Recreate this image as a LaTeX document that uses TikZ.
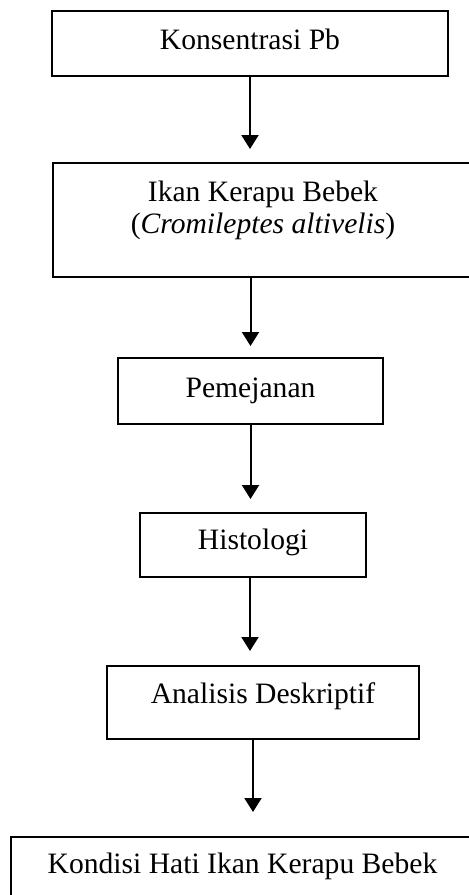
\documentclass[tikz,border=0pt]{standalone}
\usepackage{fontspec}
\setmainfont{Liberation Serif}
\usetikzlibrary{positioning, arrows.meta}

\begin{document}
\begin{tikzpicture}[x = 0.5pt, y = -0.5pt,
    box/.style = {draw, line width = 1pt, inner ysep = 0pt, align = center,
        font = \fontsize{14.8}{16}\selectfont},
    arr/.style = {line width = 1pt, -{Triangle[width = 8.5pt, length = 7pt]}}]
        \useasboundingbox (0,0) rectangle (469,895) ; %
        \clip (0,0) rectangle (469,895) ; %
        %
        \node[box, anchor = north, minimum width = 198pt, text height = 19pt, text depth = 13.5pt] (konsentrasi) at (250,10) {Konsentrasi Pb} ; %
        \node[box, below = 42.5pt of konsentrasi, xshift = 6.5pt, minimum width = 210pt, text height = 35pt, text depth = 22pt] (kerapu) {Ikan Kerapu Bebek\\(\textit{Cromileptes altivelis})} ; %
        \node[box, below = 39.5pt of kerapu, xshift = -6.25pt, minimum width = 132.5pt, text height = 19.5pt, text depth = 13.5pt] (pemejanan) {Pemejanan} ; %
        \node[box, below = 43.5pt of pemejanan, xshift = 1.25pt, minimum width = 113pt, text height = 18pt, text depth = 14pt] (histologi) {Histologi} ; %
        \node[box, below = 43.5pt of histologi, xshift = 5pt, minimum width = 156pt, text height = 18.5pt, text depth = 18pt] (analisis) {Analisis Deskriptif} ; %
        \node[box, below = 48pt of analisis, xshift = -10.25pt, minimum width = 231.5pt, text height = 18pt, text depth = 16.5pt] (kondisi) {Kondisi Hati Ikan Kerapu Bebek} ; %
        %
        \draw[arr, shorten >= 6.5pt] (konsentrasi.south) -- (konsentrasi.south |- kerapu.north) ; %
        \draw[arr, shorten >= 5.5pt] (pemejanan.north |- kerapu.south) -- (pemejanan.north) ; %
        \draw[arr, shorten >= 6.5pt] (pemejanan.south) -- (pemejanan.south |- histologi.north) ; %
        \draw[arr, shorten >= 7pt] ([xshift = -1.5pt]histologi.south) -- ([xshift = -1.5pt]histologi.south |- analisis.north) ; %
        \draw[arr, shorten >= 12pt] ([xshift = -5pt]analisis.south) -- ([xshift = -5pt]analisis.south |- kondisi.north) ; %
\end{tikzpicture}
\end{document}
